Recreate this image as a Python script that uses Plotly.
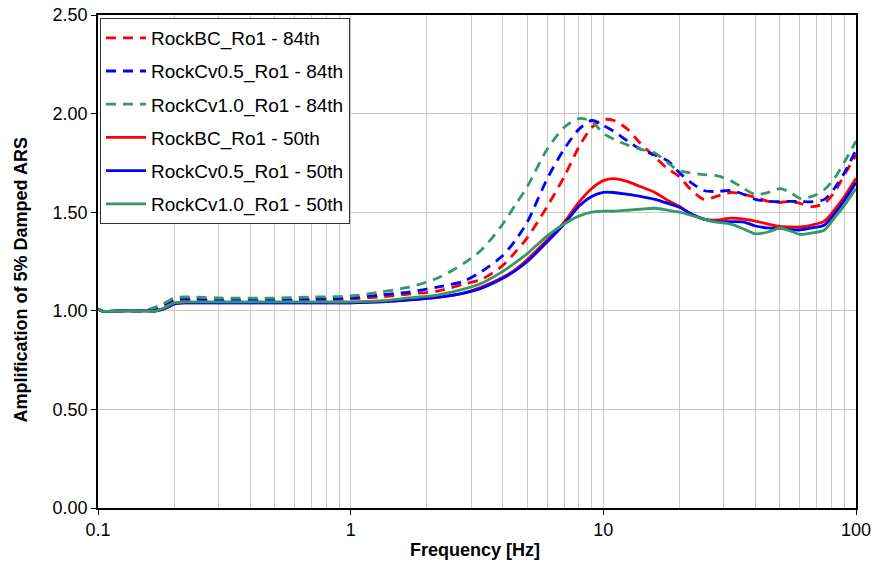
import plotly.graph_objects as go

freq = [0.1, 0.104, 0.12, 0.15, 0.17, 0.19, 0.2, 0.22, 0.3, 0.5, 0.7, 1.0, 1.3, 1.7, 2.2, 2.8,
        3.3, 4.0, 4.5, 5.0, 6.0, 7.0, 8.0, 9.0, 10, 11, 12.5, 14, 16, 18, 20, 22, 25, 28, 32,
        36, 40, 45, 50, 55, 60, 67, 75, 82, 90, 100]

bc_84 = [1.01, 0.998, 1.0, 1.0, 1.01, 1.04, 1.05, 1.055, 1.05, 1.05, 1.055, 1.06, 1.07, 1.085, 1.10, 1.135,
         1.16, 1.23, 1.30, 1.37, 1.53, 1.68, 1.83, 1.93, 1.97, 1.965, 1.92, 1.85, 1.78, 1.72, 1.68, 1.62, 1.565, 1.58, 1.60,
         1.59, 1.575, 1.555, 1.55, 1.555, 1.545, 1.528, 1.545, 1.60, 1.69, 1.79]
cv05_84 = [1.01, 0.998, 1.0, 1.0, 1.01, 1.045, 1.055, 1.06, 1.055, 1.055, 1.06, 1.065, 1.08, 1.095, 1.12, 1.15,
           1.20, 1.28, 1.36, 1.45, 1.67, 1.82, 1.92, 1.965, 1.94, 1.91, 1.86, 1.82, 1.79, 1.76, 1.70, 1.655, 1.61, 1.605, 1.61,
           1.59, 1.565, 1.555, 1.553, 1.555, 1.555, 1.553, 1.565, 1.62, 1.70, 1.815]
cv10_84 = [1.01, 0.998, 1.0, 1.0, 1.02, 1.05, 1.065, 1.07, 1.065, 1.065, 1.07, 1.075, 1.095, 1.12, 1.165, 1.24,
           1.31, 1.44, 1.54, 1.63, 1.82, 1.93, 1.975, 1.96, 1.90, 1.87, 1.84, 1.82, 1.80, 1.75, 1.71, 1.70, 1.69, 1.685, 1.66,
           1.62, 1.59, 1.60, 1.62, 1.60, 1.57, 1.58, 1.615, 1.67, 1.755, 1.86]
bc_50 = [1.01, 0.998, 1.0, 1.0, 1.0, 1.02, 1.035, 1.04, 1.04, 1.04, 1.04, 1.04, 1.045, 1.055, 1.068, 1.09,
         1.12, 1.17, 1.21, 1.26, 1.36, 1.45, 1.55, 1.62, 1.66, 1.67, 1.655, 1.63, 1.60, 1.56, 1.53, 1.495, 1.465, 1.46, 1.47,
         1.465, 1.455, 1.44, 1.428, 1.425, 1.425, 1.435, 1.455, 1.51, 1.58, 1.672]
cv05_50 = [1.01, 0.998, 1.0, 1.0, 1.0, 1.02, 1.035, 1.04, 1.04, 1.04, 1.04, 1.04, 1.045, 1.055, 1.068, 1.09,
           1.115, 1.165, 1.205, 1.25, 1.35, 1.44, 1.53, 1.58, 1.60, 1.60, 1.59, 1.58, 1.565, 1.545, 1.525, 1.495, 1.465, 1.452, 1.452,
           1.45, 1.43, 1.42, 1.418, 1.412, 1.41, 1.42, 1.435, 1.49, 1.56, 1.65]
cv10_50 = [1.01, 0.998, 1.0, 1.0, 1.0, 1.025, 1.04, 1.045, 1.045, 1.045, 1.045, 1.045, 1.05, 1.065, 1.08, 1.11,
           1.14, 1.20, 1.245, 1.29, 1.38, 1.44, 1.48, 1.50, 1.505, 1.505, 1.51, 1.515, 1.52, 1.51, 1.50, 1.486, 1.465, 1.45, 1.44,
           1.415, 1.39, 1.40, 1.42, 1.405, 1.388, 1.395, 1.41, 1.47, 1.535, 1.62]

names = ["RockBC_Ro1 - 84th", "RockCv0.5_Ro1 - 84th", "RockCv1.0_Ro1 - 84th",
         "RockBC_Ro1 - 50th", "RockCv0.5_Ro1 - 50th", "RockCv1.0_Ro1 - 50th"]
series = [bc_84, cv05_84, cv10_84, bc_50, cv05_50, cv10_50]
colors = ["#FF0000", "#0000FF", "#339966", "#FF0000", "#0000FF", "#339966"]
dashes = ["10px,7px", "10px,7px", "10px,7px", "solid", "solid", "solid"]

x_ticks = [0.1, 1, 10, 100]
x_labels = ["0.1", "1", "10", "100"]
y_ticks = [0, 0.5, 1.0, 1.5, 2.0, 2.5]
y_labels = ["0.00", "0.50", "1.00", "1.50", "2.00", "2.50"]
x_title = "Frequency [Hz]"
y_title = "Amplification of 5% Damped ARS"

FONT = "Arial, Liberation Sans, sans-serif"

fig = go.Figure()
for i, (nm, ys, c, d) in enumerate(zip(names, series, colors, dashes)):
    fig.add_trace(go.Scatter(x=freq, y=ys, mode="lines", name=nm, legendgroup=str(i),
                             line=dict(color=c, width=2.8, dash=d, shape="spline", smoothing=0.8)))

minor_vals = [m * 10 ** e for e in (-1, 0, 1) for m in range(2, 10)]

fig.update_layout(
    width=875, height=565,
    margin=dict(l=98, r=19, t=15, b=57, autoexpand=False),
    paper_bgcolor="white", plot_bgcolor="white",
    font=dict(family=FONT, size=18, color="black"),
    showlegend=True,
    legend=dict(x=0.0026, y=0.994, xanchor="left", yanchor="top",
                bgcolor="white", bordercolor="#333333", borderwidth=1,
                font=dict(size=19), tracegroupgap=5.5, traceorder="grouped", itemwidth=40),
    xaxis=dict(type="log", range=[-1, 2], tickvals=x_ticks, ticktext=x_labels,
               showgrid=True, gridcolor="#c8c8c8", gridwidth=1, automargin=False,
               ticklabeloverflow="allow",
               minor=dict(tickvals=minor_vals, showgrid=True, gridcolor="#c8c8c8", gridwidth=1, ticks=""),
               showline=True, linecolor="black", linewidth=1.5, mirror=True,
               ticks="outside", ticklen=5, tickcolor="black", zeroline=False),
    yaxis=dict(range=[0, 2.5], tickvals=y_ticks, ticktext=y_labels,
               showgrid=True, gridcolor="#c8c8c8", gridwidth=1, automargin=False,
               ticklabeloverflow="allow",
               showline=True, linecolor="black", linewidth=1.5, mirror=True,
               ticks="outside", ticklen=5, tickcolor="black", zeroline=False),
)

fig.add_annotation(text="<b>" + x_title + "</b>", xref="paper", yref="paper",
                   x=0.497, y=-0.085, xanchor="center", yanchor="middle",
                   showarrow=False, font=dict(size=18))
fig.add_annotation(text="<b>" + y_title + "</b>", xref="paper", yref="paper",
                   x=-0.1003, y=0.4635, xanchor="center", yanchor="middle", textangle=-90,
                   showarrow=False, font=dict(size=18))

# remove the page's default 8px body margin so the figure fills the window
fig.write_html("out.html", config={"displayModeBar": False},
               post_script="document.body.style.margin='0px';")
